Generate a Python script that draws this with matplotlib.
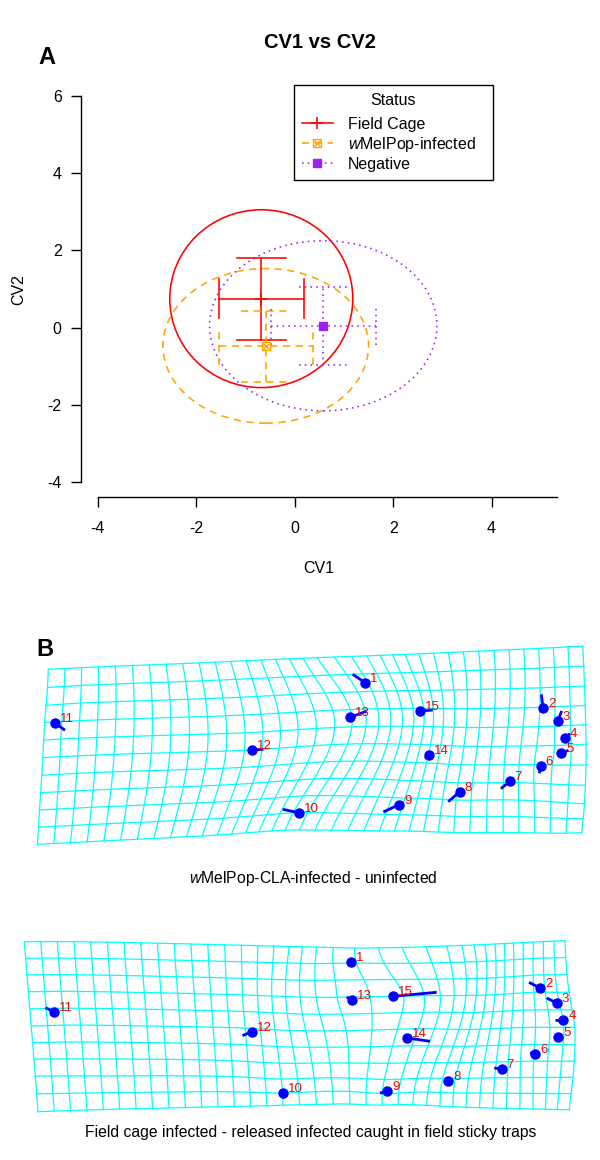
import numpy as np
import matplotlib
matplotlib.use("Agg")
import matplotlib.pyplot as plt
from matplotlib.patches import Ellipse
from matplotlib.lines import Line2D

plt.rcParams['font.family'] = ['Liberation Sans', 'DejaVu Sans']
plt.rcParams['mathtext.fontset'] = 'custom'
plt.rcParams['mathtext.it'] = 'Liberation Sans:italic'
plt.rcParams['mathtext.rm'] = 'Liberation Sans'

# ---------------- Panel A data ----------------
groups = ["Field Cage", r"$\it{w}$MelPop-infected", "Negative"]
colors = ["#FF0000", "#FFA500", "#A020F0"]
cv1_mean = [-0.68, -0.59, 0.58]
cv2_mean = [0.75, -0.47, 0.05]
cv1_lo = [-1.54, -1.54, -0.48]
cv1_hi = [0.18, 0.38, 1.65]
cv2_lo = [-0.31, -1.41, -0.97]
cv2_hi = [1.81, 0.44, 1.06]
ell_rx = [1.86, 2.09, 2.31]
ell_ry = [2.30, 2.00, 2.20]
x_ticks = [-4, -2, 0, 2, 4]
y_ticks = [-4, -2, 0, 2, 4, 6]

# ---------------- Panel B data (landmark configurations) ----------------
lm_labels = [str(i) for i in range(1, 16)]
# upper configuration: wMelPop-CLA-infected - uninfected
top_x = [365.0, 543.0, 557.9, 564.6, 561.4, 540.7, 509.6, 459.6, 399.0, 298.6, 54.8, 251.6, 350.4, 429.3, 420.0]
top_y = [682.7, 707.7, 720.7, 738.3, 753.3, 766.0, 781.3, 791.7, 804.7, 812.7, 722.7, 750.0, 717.3, 755.0, 711.0]
top_dx = [-12.3, -1.7, 3.8, 5.4, 6.9, -1.4, -8.6, -11.3, -15.7, -15.9, 10.2, 11.7, 16.3, -4.3, 12.7]
top_dy = [-8.4, -13.4, -9.7, -4.6, -3.0, 7.3, 7.4, 10.0, 7.3, -3.4, 7.6, -0.7, -6.3, 3.7, -1.0]
top_lm_col = [18.8, 32.2, 33.2, 33.6, 33.4, 32.4, 30.4, 27.2, 22.7, 16.4, 0.6, 11.4, 16.9, 24.1, 22.6]
top_lm_row = [1.5, 3.02, 3.73, 4.65, 5.4, 6.06, 6.93, 7.5, 8.4, 9.0, 3.05, 5.0, 3.45, 5.56, 3.15]
top_edge_col = [0, 6, 12, 17, 23, 29, 35, 0, 6, 12, 18, 24, 30, 35, 0, 0, 0, 35, 35, 35]
top_edge_row = [0, 0, 0, 0, 0, 0, 0, 10, 10, 10, 10, 10, 10, 10, 2, 5, 8, 2, 5, 8]
top_edge_x = [48.3, 149.3, 246.0, 317.3, 405.0, 494.0, 582.7, 37.3, 137.3, 231.7, 315.0, 409.0, 503.0, 581.7,
              46.1, 42.8, 39.5, 584.5, 586.0, 584.5]
top_edge_y = [669.3, 664.9, 660.7, 657.7, 654.5, 650.3, 646.0, 844.3, 839.3, 834.0, 830.0, 831.0, 832.5, 832.7,
              705.3, 757.7, 810.0, 686.0, 744.3, 803.7]

# lower configuration: field cage infected - released infected caught in field sticky traps
bot_x = [350.7, 540.0, 556.7, 563.3, 558.3, 535.0, 501.7, 448.3, 387.3, 282.5, 53.5, 251.6, 351.7, 407.3, 392.7]
bot_y = [962.3, 988.0, 1003.0, 1020.3, 1037.0, 1053.7, 1069.0, 1080.7, 1091.3, 1092.7, 1011.7, 1031.7, 999.7, 1038.0, 996.3]
bot_dx = [0.0, -11.0, -10.0, -8.3, -3.3, -5.0, -7.4, 0.0, -7.3, 0.0, -8.0, -9.1, -5.0, 22.7, 44.0]
bot_dy = [0.0, -5.7, -5.0, 0.0, -1.3, -0.7, -1.0, 0.0, 1.7, 5.6, -4.0, 4.0, -2.7, 3.3, -4.0]
bot_lm_col = [19.8, 32.6, 33.8, 34.0, 33.6, 32.1, 29.5, 25.5, 21.3, 15.0, 1.43, 13.4, 19.5, 21.6, 20.6]
bot_lm_row = [0.95, 2.77, 3.6, 4.6, 5.55, 6.55, 7.45, 8.15, 8.8, 8.95, 4.2, 5.2, 3.15, 5.55, 3.0]
bot_edge_col = [0, 10, 16, 20, 22, 24, 26, 28, 30, 32, 35, 0, 8, 15, 19, 22, 25, 29, 32, 35, 0, 0, 0, 35, 35, 35, 35]
bot_edge_row = [0, 0, 0, 0, 0, 0, 0, 0, 0, 0, 0, 10, 10, 10, 10, 10, 10, 10, 10, 10, 3, 5, 8, 2, 4, 6, 8]
bot_edge_x = [24.4, 190.9, 289.0, 354.5, 402.0, 446.7, 474.0, 495.0, 513.3, 533.3, 565.0,
              38.0, 169.0, 283.0, 350.0, 398.0, 440.0, 493.0, 533.0, 569.3,
              28.4, 31.2, 35.3, 567.0, 572.0, 575.0, 573.0]
bot_edge_y = [941.7, 944.0, 946.5, 948.0, 947.5, 946.0, 945.0, 944.0, 943.0, 942.0, 940.7,
              1111.7, 1108.0, 1105.0, 1104.0, 1104.5, 1106.0, 1108.0, 1109.0, 1109.7,
              991.7, 1026.0, 1076.0, 974.7, 1009.7, 1044.7, 1077.3]
n_cols, n_rows = 35, 10

W, H = 600, 1160
fig = plt.figure(figsize=(W / 100, H / 100), dpi=100)
FS = 11.5

# ---------------- Panel A ----------------
axA = fig.add_axes([80.7 / W, 1 - 497 / H, (557 - 80.7) / W, (497 - 82.6) / H])
axA.set_xlim(-4.35, 5.33)
axA.set_ylim(-4.38, 6.34)
styles = ['-', (0, (4.5, 3.5)), (0, (1, 2.6))]
lw = 1.15
cap = 0.5
for i in range(3):
    c, ls = colors[i], styles[i]
    axA.add_patch(Ellipse((cv1_mean[i], cv2_mean[i]), 2 * ell_rx[i], 2 * ell_ry[i],
                          fill=False, ec=c, lw=lw, ls=ls))
    axA.plot([cv1_lo[i], cv1_hi[i]], [cv2_mean[i]] * 2, color=c, lw=lw, ls=ls)
    axA.plot([cv1_mean[i]] * 2, [cv2_lo[i], cv2_hi[i]], color=c, lw=lw, ls=ls)
    for yy in (cv2_lo[i], cv2_hi[i]):
        axA.plot([cv1_mean[i] - cap, cv1_mean[i] + cap], [yy, yy], color=c, lw=lw, ls=ls)
    for xx in (cv1_lo[i], cv1_hi[i]):
        axA.plot([xx, xx], [cv2_mean[i] - cap, cv2_mean[i] + cap], color=c, lw=lw, ls=ls)

axA.plot(cv1_mean[0], cv2_mean[0], marker='+', ms=8, color=colors[0], mew=lw, ls='none')
axA.plot(cv1_mean[1], cv2_mean[1], marker='s', ms=6, mfc='none', mec=colors[1], mew=1, ls='none')
axA.plot(cv1_mean[1], cv2_mean[1], marker='x', ms=5, color=colors[1], mew=1, ls='none')
axA.plot(cv1_mean[2], cv2_mean[2], marker='s', ms=6, color=colors[2], ls='none')

for s in ('top', 'right'):
    axA.spines[s].set_visible(False)
axA.spines['left'].set_bounds(y_ticks[0], y_ticks[-1])
axA.spines['bottom'].set_bounds(x_ticks[0], 5.33)
for s in ('left', 'bottom'):
    axA.spines[s].set_linewidth(1.0)
axA.set_xticks(x_ticks)
axA.set_xticklabels([str(v) for v in x_ticks])
axA.set_yticks(y_ticks)
axA.set_yticklabels([str(v) for v in y_ticks])
axA.tick_params(axis='both', direction='out', length=7.2, width=1.0, labelsize=FS)
axA.tick_params(axis='x', pad=10)
axA.tick_params(axis='y', pad=6.5)
axA.set_xlabel('CV1', fontsize=FS)
axA.xaxis.set_label_coords(0.5, -(561 - 497) / 414.4)
axA.set_ylabel('CV2', fontsize=FS)
axA.yaxis.set_label_coords((26 - 80.7) / 476.3, 0.5)

h_red = Line2D([], [], color=colors[0], lw=lw, ls=styles[0], marker='+', ms=8, mew=lw)
h_or1 = Line2D([], [], color=colors[1], lw=lw, ls=styles[1], marker='s', ms=6, mfc='none', mew=1)
h_or2 = Line2D([], [], color=colors[1], lw=0, marker='x', ms=5, mew=1)
h_pu = Line2D([], [], color=colors[2], lw=lw, ls=styles[2], marker='s', ms=6)
leg = axA.legend([h_red, (h_or1, h_or2), h_pu], groups, title='Status',
                 loc='upper left', bbox_to_anchor=(294 / W, 1 - 85 / H, 199 / W, 0.0),
                 bbox_transform=fig.transFigure, mode='expand', borderaxespad=0,
                 fancybox=False, framealpha=1, edgecolor='black', fontsize=FS,
                 title_fontsize=FS, handlelength=1.9, handletextpad=0.95,
                 labelspacing=0.2, borderpad=0.52)
leg.get_frame().set_linewidth(1.0)
if hasattr(leg, '_legend_box'):
    leg._legend_box.sep = 0.2 * FS + 3.6

fig.text(320 / W, 1 - 42 / H, 'CV1 vs CV2', ha='center', va='center', fontsize=14.5, fontweight='bold')
fig.text(47 / W, 1 - 57 / H, 'A', ha='center', va='center', fontsize=17, fontweight='bold')
fig.text(45 / W, 1 - 650 / H, 'B', ha='center', va='center', fontsize=17, fontweight='bold')


# ---------------- Panel B: thin-plate-spline deformation grids ----------------
def tps_map(src, dst, pts, lam=0.02):
    def U(r):
        with np.errstate(divide='ignore', invalid='ignore'):
            v = r ** 2 * np.log(r)
        return np.nan_to_num(v)
    n = len(src)
    K = U(np.linalg.norm(src[:, None] - src[None], axis=2)) + lam * np.eye(n)
    P = np.hstack([np.ones((n, 1)), src])
    L = np.zeros((n + 3, n + 3))
    L[:n, :n] = K
    L[:n, n:] = P
    L[n:, :n] = P.T
    Y = np.vstack([dst, np.zeros((3, 2))])
    coef = np.linalg.solve(L, Y)
    Kp = U(np.linalg.norm(pts[:, None] - src[None], axis=2))
    return Kp @ coef[:n] + np.hstack([np.ones((len(pts), 1)), pts]) @ coef[n:]


def draw_config(ax, lx, ly, dx, dy, lcol, lrow, ecol, erow, ex, ey):
    src = np.column_stack([list(ecol) + list(lcol), list(erow) + list(lrow)]).astype(float)
    dst = np.column_stack([list(ex) + list(lx), list(ey) + list(ly)]).astype(float)
    t = np.linspace(0, n_cols, 300)
    for r in range(n_rows + 1):
        p = tps_map(src, dst, np.column_stack([t, np.full_like(t, r)]))
        ax.plot(p[:, 0], p[:, 1], color='#00FFFF', lw=0.9, zorder=1)
    s = np.linspace(0, n_rows, 120)
    for c in range(n_cols + 1):
        p = tps_map(src, dst, np.column_stack([np.full_like(s, c), s]))
        ax.plot(p[:, 0], p[:, 1], color='#00FFFF', lw=0.9, zorder=1)
    for i in range(len(lx)):
        ax.plot([lx[i], lx[i] + dx[i]], [ly[i], ly[i] + dy[i]], color='#0000FF', lw=2.0,
                solid_capstyle='butt', zorder=2)
    ax.plot(lx, ly, 'o', color='#0000FF', ms=6.5, zorder=3)
    for i in range(len(lx)):
        ax.text(lx[i] + 5, ly[i] - 4, lm_labels[i], color='#FF0000', fontsize=9.5,
                ha='left', va='center', zorder=4)


axT = fig.add_axes([0, 1 - 860 / H, 1, (860 - 630) / H])
axT.set_xlim(0, W)
axT.set_ylim(860, 630)
axT.axis('off')
draw_config(axT, top_x, top_y, top_dx, top_dy, top_lm_col, top_lm_row,
            top_edge_col, top_edge_row, top_edge_x, top_edge_y)

axB = fig.add_axes([0, 1 - 1125 / H, 1, (1125 - 925) / H])
axB.set_xlim(0, W)
axB.set_ylim(1125, 925)
axB.axis('off')
draw_config(axB, bot_x, bot_y, bot_dx, bot_dy, bot_lm_col, bot_lm_row,
            bot_edge_col, bot_edge_row, bot_edge_x, bot_edge_y)

fig.text(313 / W, 1 - 879 / H, r"$\it{w}$MelPop-CLA-infected - uninfected", ha='center', va='center', fontsize=11.3)
fig.text(311 / W, 1 - 1133 / H, "Field cage infected - released infected caught in field sticky traps",
         ha='center', va='center', fontsize=11.3)

fig.savefig('out.png', dpi=100)
